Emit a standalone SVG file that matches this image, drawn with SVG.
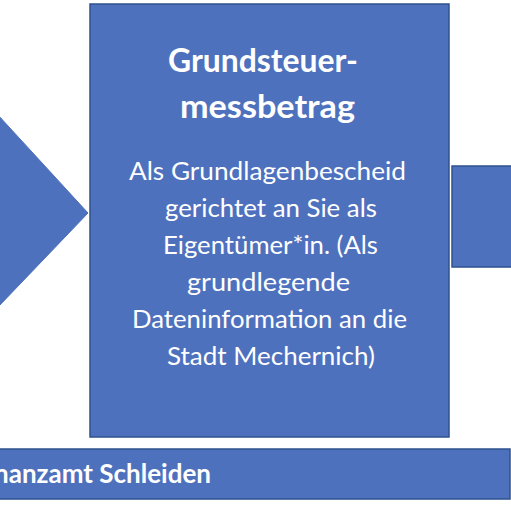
<svg xmlns="http://www.w3.org/2000/svg" width="511" height="511" viewBox="0 0 511 511">
<style>
.shape{fill:#4E71BE;stroke:#2F528F;stroke-width:1.5}
.arrow{fill:#4E71BE;stroke:#4E71BE;stroke-width:1}
text{fill:#FFFFFF;font-family:Lato,"Liberation Sans",sans-serif}
.title{font-size:32px;font-weight:bold;text-anchor:middle}
.body{font-size:25px;text-anchor:middle}
.bar{font-size:26px;font-weight:bold;text-anchor:end}
</style>
<rect width="511" height="511" fill="#FFFFFF"/>
<g id="connectors">
<polygon class="arrow" points="-2,115 88,213 -2,307"/>
</g>
<g id="node-messbetrag">
<rect class="shape" x="90" y="4" width="359" height="433"/>
<text class="title" x="263" y="72" textLength="190" lengthAdjust="spacingAndGlyphs">Grundsteuer-</text>
<text class="title" x="267.5" y="118" textLength="175" lengthAdjust="spacingAndGlyphs">messbetrag</text>
<text class="body" x="267.5" y="180" textLength="277" lengthAdjust="spacingAndGlyphs">Als Grundlagenbescheid</text>
<text class="body" x="271" y="217" textLength="212" lengthAdjust="spacingAndGlyphs">gerichtet an Sie als</text>
<text class="body" x="270.5" y="254" textLength="215" lengthAdjust="spacingAndGlyphs">Eigentümer*in. (Als</text>
<text class="body" x="268.5" y="291" textLength="163" lengthAdjust="spacingAndGlyphs">grundlegende</text>
<text class="body" x="269.5" y="328" textLength="275" lengthAdjust="spacingAndGlyphs">Dateninformation an die</text>
<text class="body" x="271" y="365" textLength="208" lengthAdjust="spacingAndGlyphs">Stadt Mechernich)</text>
</g>
<g id="node-right">
<rect class="shape" x="452" y="166" width="70" height="101"/>
</g>
<g id="node-finanzamt">
<rect class="shape" x="-5" y="449" width="515" height="50"/>
<text class="bar" x="211" y="483">Finanzamt Schleiden</text>
</g>
</svg>
